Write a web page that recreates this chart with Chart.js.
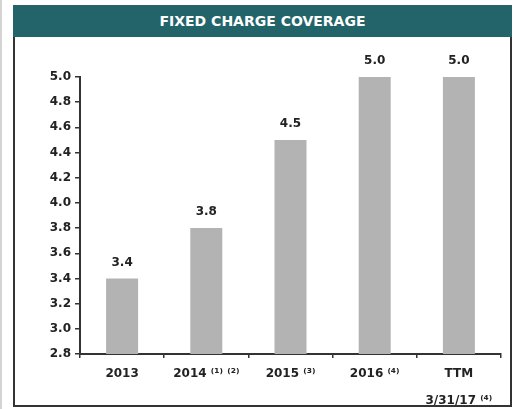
<!DOCTYPE html>
<html>
<head>
<meta charset="utf-8">
<script src="https://cdn.jsdelivr.net/npm/chart.js@4.4.0/dist/chart.umd.min.js"></script>
<style>
  body { margin: 0; background: #fff; width: 515px; height: 409px; overflow: hidden; position: relative; }
  #edge { position: absolute; left: 0; top: 0; width: 2px; height: 409px; background: #d4d4d4; }
  #head {
    position: absolute; left: 13px; top: 5px; width: 499px; height: 32px;
    background: #23646a; color: #fff; font: bold 14px "DejaVu Sans", sans-serif;
    text-align: center; line-height: 32px;
  }
  #frame {
    position: absolute; left: 13px; top: 37px; width: 499px; height: 370px;
    border: 2px solid #333; border-top: none; box-sizing: border-box;
  }
  #c { position: absolute; left: 15px; top: 37px; }
</style>
</head>
<body>
<div id="edge"></div>
<div id="head">FIXED CHARGE COVERAGE</div>
<div id="frame"></div>
<canvas id="c" width="494" height="368"></canvas>
<script>
// data
const periods = ['2013', '2014 ⁽¹⁾ ⁽²⁾', '2015 ⁽³⁾', '2016 ⁽⁴⁾', ['TTM', '3/31/17 ⁽⁴⁾']];
const coverage = [3.4, 3.8, 4.5, 5.0, 5.0];
const yMin = 2.8, yMax = 5.0, yStep = 0.2;

const font = '"DejaVu Sans", sans-serif';
const ink = '#222';
const axis = '#333';

// value on top of each bar
const valueLabels = {
  id: 'valueLabels',
  afterDatasetsDraw(chart) {
    const ctx = chart.ctx;
    const meta = chart.getDatasetMeta(0);
    ctx.save();
    ctx.font = 'bold 12px ' + font;
    ctx.fillStyle = ink;
    ctx.textAlign = 'center';
    ctx.textBaseline = 'middle';
    meta.data.forEach((bar, i) => {
      ctx.fillText(coverage[i].toFixed(1), bar.x, bar.y - 16);
    });
    ctx.restore();
  }
};

new Chart(document.getElementById('c'), {
  type: 'bar',
  data: {
    labels: periods,
    datasets: [{
      data: coverage,
      backgroundColor: '#b3b3b3',
      borderWidth: 0,
      categoryPercentage: 1,
      barPercentage: 0.38
    }]
  },
  options: {
    responsive: false,
    animation: false,
    layout: { padding: { left: 0, top: 40, right: 8, bottom: 0 } },
    plugins: { legend: { display: false }, tooltip: { enabled: false } },
    scales: {
      x: {
        afterFit: (s) => { s.height = 51; },
        grid: { drawOnChartArea: false, tickLength: 4, color: axis, lineWidth: 1.5 },
        border: { color: axis, width: 2 },
        ticks: {
          color: ink,
          padding: 3,
          maxRotation: 0,
          font: { family: font, size: 12, weight: 'bold', lineHeight: 2.2 }
        }
      },
      y: {
        min: yMin,
        max: yMax,
        afterFit: (s) => { s.width = 65; },
        grid: { drawOnChartArea: false, tickLength: 5, color: axis, lineWidth: 1.5 },
        border: { color: axis, width: 2 },
        ticks: {
          stepSize: yStep,
          color: ink,
          padding: 4,
          font: { family: font, size: 12, weight: 'bold' },
          callback: (v) => Number(v).toFixed(1)
        }
      }
    }
  },
  plugins: [valueLabels]
});
</script>
</body>
</html>
